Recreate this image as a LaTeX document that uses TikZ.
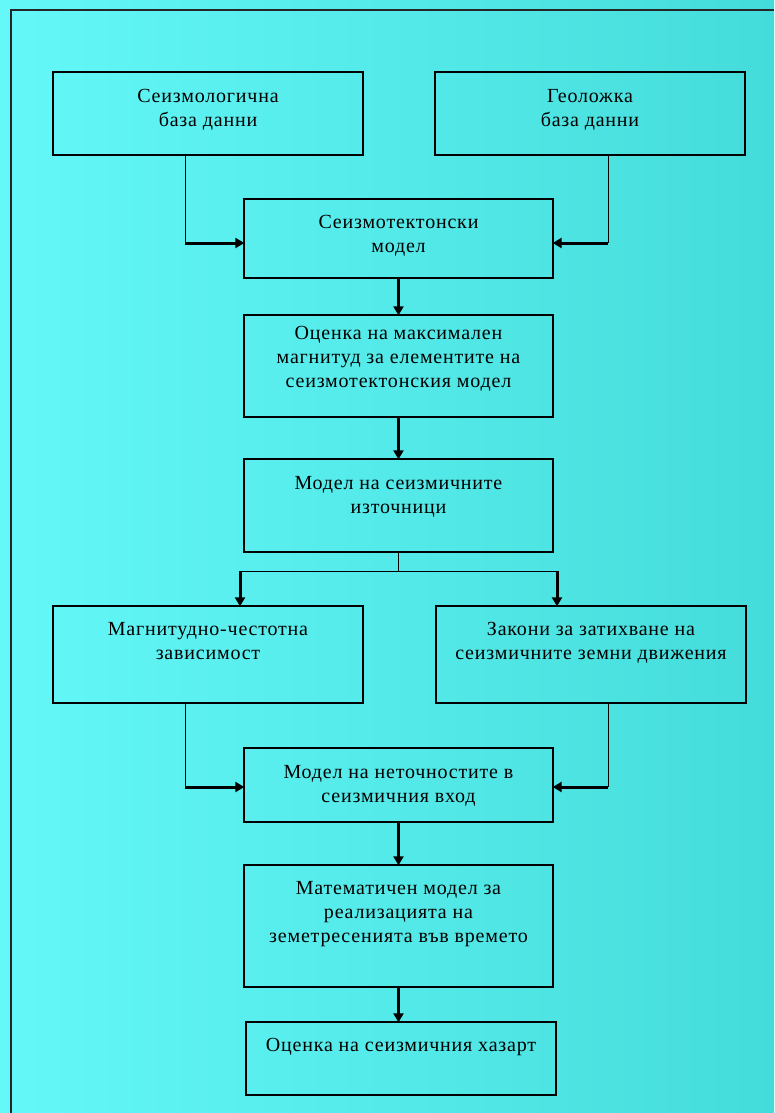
\documentclass[tikz,border=0pt]{standalone}
\usepackage{fontspec}
\setmainfont{Liberation Serif}[LetterSpace=4]
\usetikzlibrary{arrows.meta}

\def\ux{1pt}
\def\uy{1pt}
\definecolor{seaL}{RGB}{100,248,248}
\definecolor{seaR}{RGB}{68,220,218}

\tikzset{
  box/.style={draw=black, line width=1.4pt, rectangle, inner sep=0pt},
  txt/.style={anchor=north, align=center, inner sep=0pt,
    font=\fontsize{20}{24}\selectfont},
  wire/.style={line width=0.9pt},
  feed/.style={line width=3pt, -{Triangle[length=9pt,width=10pt]}, shorten >=-1pt}
}

\begin{document}
\begin{tikzpicture}[x=\ux, y=-\uy]
	\fill[left color=seaL, right color=seaR] (0,0) rectangle (774,1113);
	\useasboundingbox (0,0) rectangle (774,1113);
	\draw[line width=2pt, black!85] (11,1113) -- (11,10) -- (774,10);

	% boxes
	\node[box, minimum width=310, minimum height=83] (b1) at (208,113.5) {};
	\node[box, minimum width=310, minimum height=83] (b2) at (590,113.5) {};
	\node[box, minimum width=309, minimum height=79] (b3) at (398.5,238.5) {};
	\node[box, minimum width=309, minimum height=102] (b4) at (398.5,366) {};
	\node[box, minimum width=309, minimum height=93] (b5) at (398.5,505.5) {};
	\node[box, minimum width=310, minimum height=97] (b6) at (208,654.5) {};
	\node[box, minimum width=310, minimum height=97] (b7) at (591,654.5) {};
	\node[box, minimum width=309, minimum height=74] (b8) at (398.5,785) {};
	\node[box, minimum width=309, minimum height=122] (b9) at (398.5,926) {};
	\node[box, minimum width=310, minimum height=73] (b10) at (401,1058.5) {};

	% texts
	\node[txt, yshift=-18pt] (t1) at (b1.north) {Сеизмологична\\база данни};
	\node[txt, yshift=-18pt] (t2) at (b2.north) {Геоложка\\база данни};
	\node[txt, yshift=-17pt] (t3) at (b3.north) {Сеизмотектонски\\модел};
	\node[txt, yshift=-12pt] (t4) at (b4.north) {Оценка на максимален\\магнитуд за елементите на\\сеизмотектонския модел};
	\node[txt, yshift=-18pt] (t5) at (b5.north) {Модел на сеизмичните\\източници};
	\node[txt, yshift=-17pt] (t6) at (b6.north) {Магнитудно-честотна\\зависимост};
	\node[txt, yshift=-17pt] (t7) at (b7.north) {Закони за затихване на\\сеизмичните земни движения};
	\node[txt, yshift=-18pt] (t8) at (b8.north) {Модел на неточностите в\\сеизмичния вход};
	\node[txt, yshift=-17pt] (t9) at (b9.north) {Математичен модел за\\реализацията на\\земетресенията във времето};
	\node[txt, yshift=-17pt] (t10) at (b10.north) {Оценка на сеизмичния хазарт};

	% side feeds
	\coordinate (k1) at (185,243);
	\coordinate (k2) at (608,243);
	\coordinate (k3) at (185,787);
	\coordinate (k4) at (608,787);
	\draw[wire] (b1.south -| k1) -- (k1);
	\draw[feed] (k1) -- (k1 -| b3.west);
	\draw[wire] (b2.south -| k2) -- (k2);
	\draw[feed] (k2) -- (k2 -| b3.east);
	\draw[wire] (b6.south -| k3) -- (k3);
	\draw[feed] (k3) -- (k3 -| b8.west);
	\draw[wire] (b7.south -| k4) -- (k4);
	\draw[feed] (k4) -- (k4 -| b8.east);

	% main chain
	\foreach \a/\b in {b3/b4, b4/b5, b8/b9, b9/b10}
		\draw[feed] (\a.south) -- (\a.south |- \b.north);

	% split
	\coordinate (s1) at (240,571);
	\coordinate (s2) at (557,571);
	\draw[wire] (b5.south) -- (b5.south |- s1);
	\draw[wire] (s1) -- (s2);
	\draw[feed] (s1) -- (s1 |- b6.north);
	\draw[feed] (s2) -- (s2 |- b7.north);
\end{tikzpicture}
\end{document}
